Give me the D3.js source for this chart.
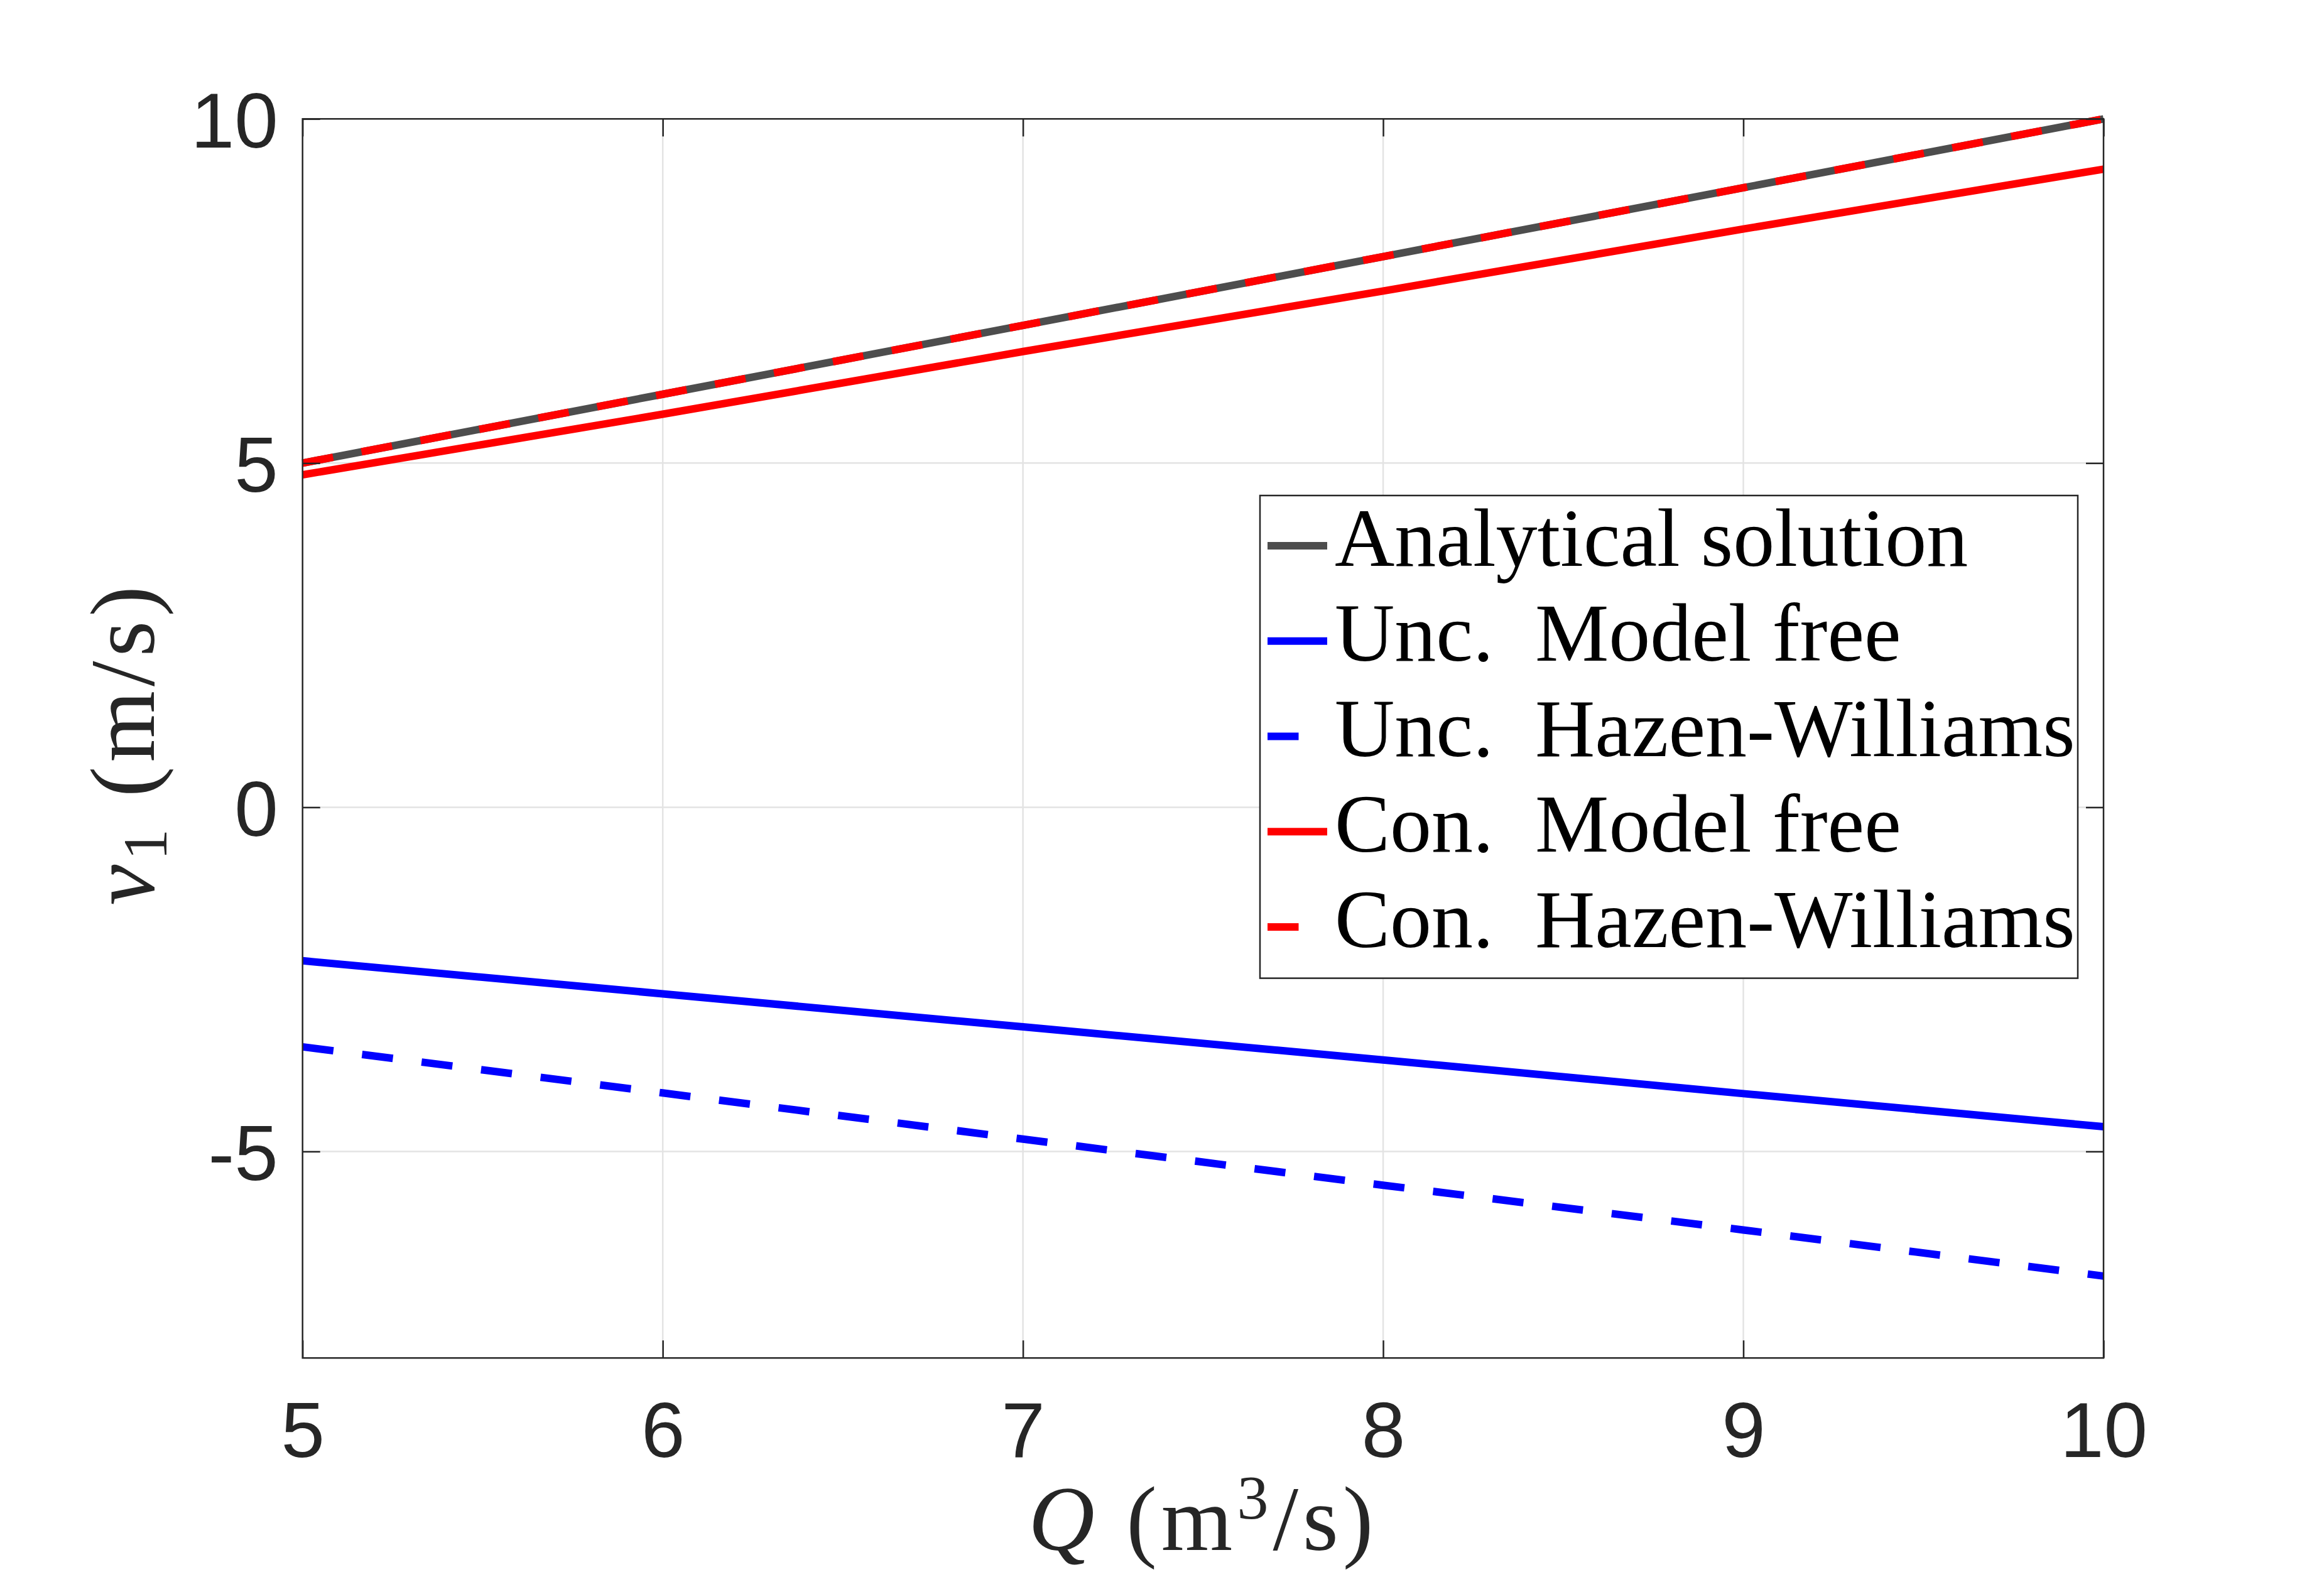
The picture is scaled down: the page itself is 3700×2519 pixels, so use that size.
<!DOCTYPE html>
<html>
<head>
<meta charset="utf-8">
<script src="https://cdn.jsdelivr.net/npm/d3@7"></script>
<style>
html, body { margin: 0; padding: 0; background: #ffffff; overflow: hidden; }
svg { display: block; }
</style>
</head>
<body>
<script>
// ---------- data ----------
const flowQ = [5, 6, 7, 8, 9, 10];
const analytical = [5, 6, 7, 8, 9, 10];
const uncModelFree = [-2.23, -2.71, -3.19, -3.67, -4.16, -4.64];
const uncHazenWilliams = [-3.48, -4.15, -4.82, -5.49, -6.14, -6.81];
const conModelFree = [4.83, 5.71, 6.62, 7.50, 8.40, 9.27];
const conHazenWilliams = [5, 6, 7, 8, 9, 10];
const xTicks = [5, 6, 7, 8, 9, 10];
const yTicks = [-5, 0, 5, 10];
const seriesNames = ["Analytical solution", "Unc.  Model free", "Unc.  Hazen-Williams", "Con.  Model free", "Con.  Hazen-Williams"];

// ---------- layout ----------
const W = 3700, H = 2519;
const L = 481.7, R = 3349, T = 189.3, B = 2162.3;

const svg = d3.select("body").append("svg")
  .attr("width", W).attr("height", H)
  .attr("viewBox", `0 0 ${W} ${H}`);
svg.append("rect").attr("width", W).attr("height", H).attr("fill", "#ffffff");

const x = d3.scaleLinear().domain([5, 10]).range([L, R]);
const y = d3.scaleLinear().domain([-8, 10]).range([B, T]);

const axisColor = "#262626";
const gridColor = "#e3e3e3";

// grid
const grid = svg.append("g");
grid.selectAll("line.gx").data(xTicks.slice(1, -1)).join("line")
  .attr("x1", d => x(d)).attr("x2", d => x(d))
  .attr("y1", T).attr("y2", B)
  .attr("stroke", gridColor).attr("stroke-width", 2.5);
grid.selectAll("line.gy").data(yTicks.filter(d => d !== 10)).join("line")
  .attr("x1", L).attr("x2", R)
  .attr("y1", d => y(d)).attr("y2", d => y(d))
  .attr("stroke", gridColor).attr("stroke-width", 2.5);

// series
const series = [
  { name: seriesNames[0], vals: analytical, color: "#4d4d4d", dash: null },
  { name: seriesNames[1], vals: uncModelFree, color: "#0000ff", dash: null },
  { name: seriesNames[2], vals: uncHazenWilliams, color: "#0000ff", dash: "49.5,46" },
  { name: seriesNames[3], vals: conModelFree, color: "#ff0000", dash: null },
  { name: seriesNames[4], vals: conHazenWilliams, color: "#ff0000", dash: "49.5,46" }
];

const line = d3.line().x(d => x(d[0])).y(d => y(d[1]));
const lines = svg.append("g");
series.forEach(s => {
  lines.append("path")
    .datum(flowQ.map((q, i) => [q, s.vals[i]]))
    .attr("d", line)
    .attr("fill", "none")
    .attr("stroke", s.color)
    .attr("stroke-width", 12)
    .attr("stroke-linecap", "butt")
    .attr("stroke-dasharray", s.dash);
});

// axes (ticks inward, all four sides)
const tickLen = 28;
const fontTicks = "'Liberation Sans', Arial, Helvetica, sans-serif";
function styleAxis(g) {
  g.select(".domain").remove();
  g.selectAll(".tick line").attr("stroke", axisColor).attr("stroke-width", 2.5);
  g.selectAll(".tick text").attr("fill", axisColor)
    .style("font-family", fontTicks).style("font-size", "125px");
}
svg.append("g").attr("transform", `translate(0,${B})`)
  .call(d3.axisBottom(x).tickValues(xTicks).tickSizeInner(-tickLen).tickSizeOuter(0)
    .tickPadding(69).tickFormat(d => String(d)))
  .call(styleAxis);
svg.append("g").attr("transform", `translate(0,${T})`)
  .call(d3.axisTop(x).tickValues(xTicks).tickSizeInner(-tickLen).tickSizeOuter(0).tickFormat(""))
  .call(styleAxis);
svg.append("g").attr("transform", `translate(${L},0)`)
  .call(d3.axisLeft(y).tickValues(yTicks).tickSizeInner(-tickLen).tickSizeOuter(0)
    .tickPadding(39).tickFormat(d => String(d)))
  .call(styleAxis)
  .call(g => g.selectAll(".tick text").attr("dy", "0.36em"));
svg.append("g").attr("transform", `translate(${R},0)`)
  .call(d3.axisRight(y).tickValues(yTicks).tickSizeInner(-tickLen).tickSizeOuter(0).tickFormat(""))
  .call(styleAxis);

// box
svg.append("rect")
  .attr("x", L).attr("y", T).attr("width", R - L).attr("height", B - T)
  .attr("fill", "none").attr("stroke", axisColor).attr("stroke-width", 2.5);

// axis labels
const serif = "'Liberation Serif', 'Times New Roman', 'DejaVu Serif', serif";
const xl = svg.append("text")
  .attr("x", (L + R) / 2).attr("y", 2468)
  .attr("text-anchor", "middle")
  .attr("fill", axisColor)
  .style("letter-spacing", "7px")
  .style("font-family", serif).style("font-size", "146px");
xl.append("tspan").style("font-style", "italic").text("Q");
xl.append("tspan").text(" (m");
xl.append("tspan").attr("dy", -50).style("font-size", "100px").text("3");
xl.append("tspan").attr("dy", 50).text("/s)");

const yl = svg.append("text")
  .attr("transform", `translate(245,${(T + B) / 2 + 8}) rotate(-90)`)
  .attr("text-anchor", "middle")
  .attr("fill", axisColor)
  .style("letter-spacing", "7px")
  .style("font-family", serif).style("font-size", "146px");
yl.append("tspan").style("font-style", "italic").text("v");
yl.append("tspan").attr("dy", 20).style("font-size", "100px").text("1");
yl.append("tspan").attr("dy", -20).text(" (m/s)");

// legend
const lg = svg.append("g");
const legX0 = 2006, legX1 = 3308, legY0 = 789, legY1 = 1557.6;
lg.append("rect")
  .attr("x", legX0).attr("y", legY0).attr("width", legX1 - legX0).attr("height", legY1 - legY0)
  .attr("fill", "#ffffff").attr("stroke", axisColor).attr("stroke-width", 2.5);
const rowY = d3.scalePoint().domain(seriesNames).range([869, 1476]);
series.forEach(s => {
  const cy = rowY(s.name);
  lg.append("line")
    .attr("x1", 2018).attr("x2", 2113).attr("y1", cy).attr("y2", cy)
    .attr("stroke", s.color).attr("stroke-width", 12)
    .attr("stroke-dasharray", s.dash);
  lg.append("text")
    .attr("x", 2125).attr("y", cy + 31.7)
    .attr("fill", "#000000")
    .attr("xml:space", "preserve")
    .style("white-space", "pre")
    .style("font-family", serif).style("font-size", "132px")
    .text(s.name);
});
</script>
</body>
</html>
